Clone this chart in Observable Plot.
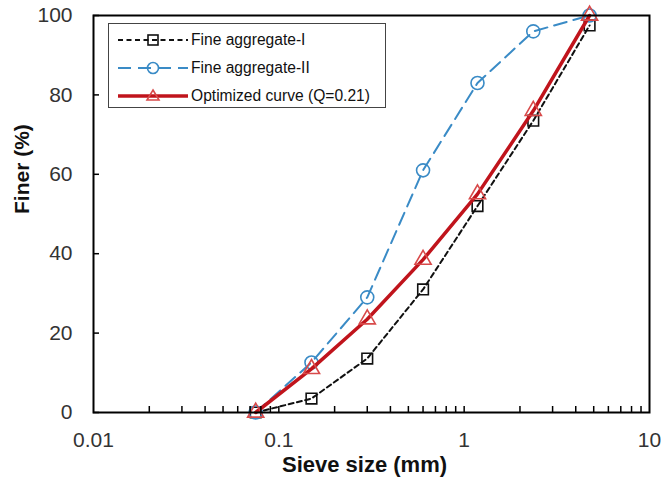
<!DOCTYPE html>
<html><head><meta charset="utf-8">
<script src="https://cdn.jsdelivr.net/npm/d3@7"></script>
<script src="https://cdn.jsdelivr.net/npm/@observablehq/plot@0.6"></script>
<style>
body{margin:0;background:#fff;font-family:"Liberation Sans",Arial,sans-serif}
#wrap{position:relative;width:662px;height:486px}
#legend{position:absolute;left:108px;top:23px;width:278px;height:85px;border:1px solid #444;background:#fff;box-sizing:border-box;font-size:15.6px;color:#111;white-space:nowrap}
#legend .row{position:absolute;left:0;height:20px;display:flex;align-items:center}
#legend svg{margin-left:9px;margin-right:3px}
</style></head>
<body><div id="wrap"><div id="chart"></div><div id="legend"></div></div>
<script>
const sieve = [0.075, 0.15, 0.3, 0.6, 1.18, 2.36, 4.75];
const fineI = [0, 3.5, 13.6, 31, 52, 73.5, 97.5];
const fineII = [0, 12.6, 29, 61, 83, 96, 100];
const optimized = [0, 11, 23.5, 38.5, 55, 76, 100];
const seriesNames = ["Fine aggregate-I", "Fine aggregate-II", "Optimized curve (Q=0.21)"];
const xTickLabels = [0.01, 0.1, 1, 10];
const yTicks = [0, 20, 40, 60, 80, 100];
const xLabel = "Sieve size (mm)";
const yLabel = "Finer (%)";

const xMinor = [];
for (const d of [0.01, 0.1, 1]) for (let k = 1; k <= 9; k++) if (!(d === 0.01 && k === 1)) xMinor.push(d * k);

const styles = [
  {stroke: "#111", strokeWidth: 2, dash: "5,3.5", symbol: "square", r: 6},
  {stroke: "#3a8bc6", strokeWidth: 2, dash: "13,7", symbol: "circle", r: 6.5},
  {stroke: "#c0141c", strokeWidth: 3.5, dash: null, symbol: "triangle", r: 6}
];
const valuesBySeries = [fineI, fineII, optimized];
const rows = [];
seriesNames.forEach((s, i) => sieve.forEach((x, j) => rows.push({series: s, x, y: valuesBySeries[i][j]})));

const marks = [];
seriesNames.forEach((s, i) => {
  const st = styles[i];
  const data = rows.filter(r => r.series === s);
  marks.push(Plot.line(data, {x: "x", y: "y", stroke: st.stroke, strokeWidth: st.strokeWidth, strokeDasharray: st.dash ?? undefined}));
  marks.push(Plot.dot(data, {x: "x", y: "y", symbol: st.symbol, r: st.r, stroke: i === 2 ? "#d84a4a" : st.stroke, strokeWidth: 1.6, fill: "none"}));
});

const chart = Plot.plot({
  width: 662, height: 486,
  marginLeft: 93, marginRight: 13, marginTop: 15, marginBottom: 74,
  style: {fontFamily: "Liberation Sans, Arial, sans-serif", background: "#fff"},
  x: {type: "log", domain: [0.01, 10]},
  y: {domain: [0, 100]},
  marks: [
    ...marks,
    Plot.frame({stroke: "#000", strokeWidth: 2}),
    Plot.axisX(xMinor, {tickSize: -6, tickFormat: () => "", strokeWidth: 1.5, label: null}),
    Plot.axisX(xTickLabels, {tickSize: 0, tickPadding: 20, tickFormat: d => String(d), fontSize: 21, fill: "#333", label: null}),
    Plot.axisY(yTicks, {tickSize: -6, tickFormat: () => "", strokeWidth: 1.5, label: null}),
    Plot.axisY(yTicks, {tickSize: 0, tickPadding: 21, tickFormat: d => String(d), fontSize: 21, fill: "#333", label: null}),
    Plot.text([xLabel], {frameAnchor: "bottom", dx: -7, dy: 59, fontSize: 22, fontWeight: "bold", fill: "#111"}),
    Plot.text([yLabel], {frameAnchor: "left", dx: -71, rotate: -90, fontSize: 21, fontWeight: "bold", fill: "#111"})
  ]
});
document.getElementById("chart").append(chart);

const legend = document.getElementById("legend");
const tops = [6, 34, 62];
seriesNames.forEach((s, i) => {
  const st = styles[i];
  const row = document.createElement("div");
  row.className = "row";
  row.style.top = tops[i] + "px";
  let marker;
  if (st.symbol === "square") marker = `<rect x="30" y="4" width="10" height="10" fill="none" stroke="${st.stroke}" stroke-width="1.6"/>`;
  else if (st.symbol === "circle") marker = `<circle cx="35" cy="9" r="5.5" fill="none" stroke="${st.stroke}" stroke-width="1.6"/>`;
  else marker = `<path d="M35,3 L41,13 L29,13 Z" fill="none" stroke="#d84a4a" stroke-width="1.6"/>`;
  row.innerHTML = `<svg width="70" height="18"><line x1="0" x2="70" y1="9" y2="9" stroke="${st.stroke}" stroke-width="${st.strokeWidth}" ${st.dash ? `stroke-dasharray="${st.dash}"` : ""}/>${marker}</svg><span>${s}</span>`;
  legend.append(row);
});
</script></body></html>
